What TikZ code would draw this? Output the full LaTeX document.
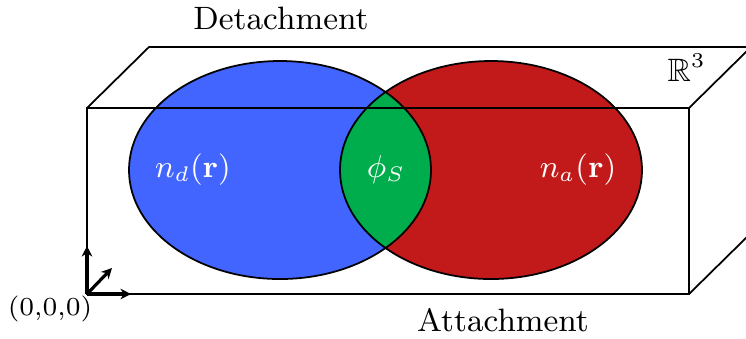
\documentclass[tikz,border=0pt]{standalone}
\usepackage{amsmath,amssymb}
\usetikzlibrary{arrows.meta}
\definecolor{detblue}{RGB}{66,100,255}
\definecolor{attred}{RGB}{194,26,26}
\definecolor{surfgreen}{RGB}{0,173,77}

\begin{document}
\begin{tikzpicture}[x=0.01cm,y=-0.01cm,font=\fontsize{9.2}{11}\selectfont]
\useasboundingbox (0,0) rectangle (746,338);
\clip (0,0) rectangle (746,338);

% box corners
\coordinate (O) at (87,294);
\coordinate (A) at (689,294);
\coordinate (B) at (689,108);
\coordinate (C) at (87,108);
\path (C)--++(62,-61) coordinate (C');
\path (B)--++(62,-61) coordinate (B');
\path (A)--++(62,-61) coordinate (A');

% centres of the two densities
\coordinate (D) at (280,170);
\coordinate (T) at (491,170);

\begin{scope}[line width=0.5pt]
\fill[detblue] (D) ellipse [x radius=151, y radius=109];
\fill[attred]  (T) ellipse [x radius=151, y radius=109];
\begin{scope}
  \clip (D) ellipse [x radius=151, y radius=109];
  \fill[surfgreen] (T) ellipse [x radius=151, y radius=109];
\end{scope}
\draw (D) ellipse [x radius=151, y radius=109];
\draw (T) ellipse [x radius=151, y radius=109];
\end{scope}

\draw[line width=0.5pt] (O)--(A)--(B)--(C)--cycle;
\draw[line width=0.5pt] (C)--(C')--(B')--(B) (A)--(A');

% axes at the origin
\begin{scope}[>={Stealth[length=3pt,width=3pt]}, line width=0.9pt]
\coordinate (ex) at (131,294);
\coordinate (ey) at (112,268);
\coordinate (ez) at (87,246);
\draw[->] (O)--(ex);
\draw[->] (O)--(ey);
\draw[->] (O)--(ez);
\end{scope}

\node[anchor=base] (det) at (281,29) {Detachment};
\node[anchor=base] (att) at (503,331) {Attachment};
\node[anchor=base, font=\fontsize{7.4}{9}\selectfont] (orig) at (50,315) {(0,0,0)};
\node[anchor=base west, inner sep=0pt] (space) at (667,81) {$\mathbb{R}^3$};
\node[white] (nd) at (193,170) {$n_d(\mathbf{r})$};
\node[white] (phi) at (386,170) {$\phi_S$};
\node[white] (na) at (578,170) {$n_a(\mathbf{r})$};

\end{tikzpicture}
\end{document}
